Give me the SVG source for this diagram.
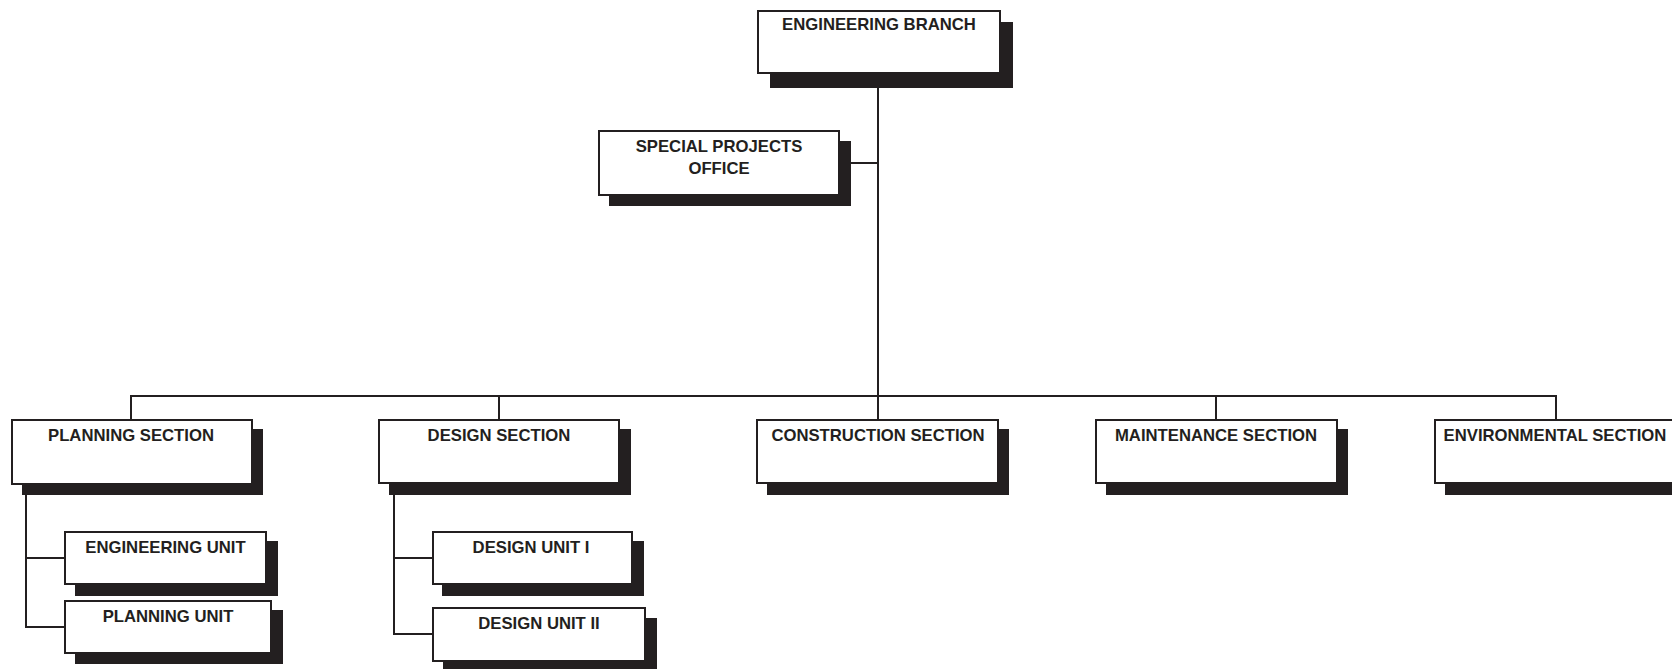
<svg xmlns="http://www.w3.org/2000/svg" width="1672" height="669" viewBox="0 0 1672 669">
<style>
.box{fill:#fff;stroke:#231f20;stroke-width:2}
.sh{fill:#231f20}
.t{font-family:"Liberation Sans",Arial,sans-serif;font-weight:bold;font-size:16.7px;fill:#231f20;text-anchor:middle}
.c{fill:none;stroke:#231f20;stroke-width:2}
</style>
<rect width="1672" height="669" fill="#fff"/>
<g id="connectors">
<path class="c" d="M878 73V396"/>
<path class="c" d="M851 163H878"/>
<path class="c" d="M131 420V396H1556V420"/>
<path class="c" d="M499 396V420"/>
<path class="c" d="M878 396V420"/>
<path class="c" d="M1216 396V420"/>
<path class="c" d="M26 484V627H65"/>
<path class="c" d="M26 558H65"/>
<path class="c" d="M394 483V634H433"/>
<path class="c" d="M394 558H433"/>
</g>
<g id="engineering-branch">
<rect class="sh" x="770" y="22" width="243" height="66"/>
<rect class="box" x="758" y="11" width="242" height="62"/>
<text class="t" x="879" y="30">ENGINEERING BRANCH</text>
</g>
<g id="special-projects-office">
<rect class="sh" x="609" y="141" width="242" height="65"/>
<rect class="box" x="599" y="131" width="240" height="64"/>
<text class="t" x="719" y="152">SPECIAL PROJECTS</text>
<text class="t" x="719" y="174">OFFICE</text>
</g>
<g id="planning-section">
<rect class="sh" x="22" y="429" width="241" height="66"/>
<rect class="box" x="12" y="420" width="240" height="64"/>
<text class="t" x="131" y="441">PLANNING SECTION</text>
</g>
<g id="design-section">
<rect class="sh" x="389" y="429" width="242" height="66"/>
<rect class="box" x="379" y="420" width="240" height="63"/>
<text class="t" x="499" y="441">DESIGN SECTION</text>
</g>
<g id="construction-section">
<rect class="sh" x="767" y="429" width="242" height="66"/>
<rect class="box" x="757" y="420" width="241" height="63"/>
<text class="t" x="878" y="441">CONSTRUCTION SECTION</text>
</g>
<g id="maintenance-section">
<rect class="sh" x="1106" y="429" width="242" height="66"/>
<rect class="box" x="1096" y="420" width="241" height="63"/>
<text class="t" x="1216" y="441">MAINTENANCE SECTION</text>
</g>
<g id="environmental-section">
<rect class="sh" x="1445" y="429" width="242" height="66"/>
<rect class="box" x="1435" y="420" width="241" height="63"/>
<text class="t" x="1555" y="441">ENVIRONMENTAL SECTION</text>
</g>
<g id="engineering-unit">
<rect class="sh" x="75" y="541" width="203" height="55"/>
<rect class="box" x="65" y="532" width="201" height="52"/>
<text class="t" x="165.5" y="553">ENGINEERING UNIT</text>
</g>
<g id="planning-unit">
<rect class="sh" x="75" y="610" width="208" height="54"/>
<rect class="box" x="65" y="601" width="206" height="52"/>
<text class="t" x="168" y="622">PLANNING UNIT</text>
</g>
<g id="design-unit-i">
<rect class="sh" x="442" y="541" width="202" height="55"/>
<rect class="box" x="433" y="532" width="199" height="52"/>
<text class="t" x="531" y="553">DESIGN UNIT I</text>
</g>
<g id="design-unit-ii">
<rect class="sh" x="443" y="618" width="214" height="54"/>
<rect class="box" x="433" y="608" width="212" height="53"/>
<text class="t" x="539" y="629">DESIGN UNIT II</text>
</g>
</svg>
